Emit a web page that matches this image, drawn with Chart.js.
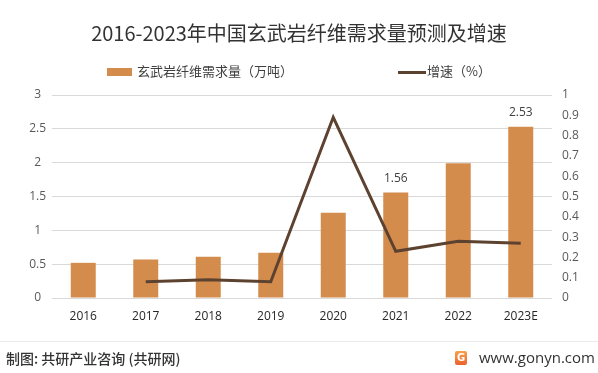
<!DOCTYPE html>
<html>
<head>
<meta charset="utf-8">
<script src="https://cdn.jsdelivr.net/npm/chart.js@4.4.1/dist/chart.umd.min.js"></script>
<style>
    body { margin: 0; background: #fff; }
    #wrap { position: relative; width: 598px; height: 373px; overflow: hidden; font-family: "Noto Sans CJK SC", "Noto Sans", sans-serif; }
    #myChart { position: absolute; left: 0; top: 0; }
    .abs { position: absolute; white-space: nowrap; }
    #title { left: 0; width: 598px; top: 20px; text-align: center; font-size: 20px; color: #333; line-height: 26px; }
    .legtext { font-size: 13px; color: #404040; line-height: 16px; top: 63px; }
    #footline { left: 0; top: 341px; width: 598px; height: 1px; background: #ebebeb; }
    #source { left: 6px; top: 349px; font-size: 14px; font-weight: 500; color: #333; line-height: 19px; }
    #logo { left: 455px; top: 351px; width: 12px; height: 14px; border-radius: 2px; background: linear-gradient(#f8a24c, #ea622d); color: #fff; font: bold 10px "DejaVu Sans", sans-serif; text-align: center; line-height: 14px; }
    #site { left: 479px; top: 347px; font-size: 15px; color: #333; line-height: 20px; font-family: "Open Sans", "Noto Sans", sans-serif; }
</style>
</head>
<body>
<div id="wrap">
    <canvas id="myChart" width="598" height="373"></canvas>
    <div id="title" class="abs">2016-2023年中国玄武岩纤维需求量预测及增速</div>
    <div class="abs" style="left:107px; top:68px; width:25px; height:8px; background:#d48c4d;"></div>
    <div class="abs legtext" style="left:137px;">玄武岩纤维需求量（万吨）</div>
    <div class="abs" style="left:398px; top:71px; width:28px; height:3px; background:#5e4230;"></div>
    <div class="abs legtext" style="left:427px;">增速（%）</div>
    <div id="footline" class="abs"></div>
    <div id="source" class="abs">制图: 共研产业咨询 (共研网)</div>
    <div id="logo" class="abs">G</div>
    <div id="site" class="abs">www.gonyn.com</div>
</div>
<script>
// Chart data
const years = ["2016", "2017", "2018", "2019", "2020", "2021", "2022", "2023E"];
const demand = [0.52, 0.57, 0.61, 0.67, 1.26, 1.56, 1.99, 2.53];
const growth = [null, 0.08, 0.09, 0.08, 0.89, 0.23, 0.28, 0.27];
const barLabels = [null, null, null, null, null, "1.56", null, "2.53"];
const leftTicks = [0, 0.5, 1, 1.5, 2, 2.5, 3];
const rightTicks = [0, 0.1, 0.2, 0.3, 0.4, 0.5, 0.6, 0.7, 0.8, 0.9, 1];

// Draw value labels above selected bars
const barLabelPlugin = {
    id: "barLabels",
    afterDatasetsDraw(chart) {
        const ctx = chart.ctx;
        const meta = chart.getDatasetMeta(1);
        ctx.save();
        ctx.font = '12px "Open Sans", "Noto Sans", sans-serif';
        ctx.fillStyle = "#404040";
        ctx.textAlign = "center";
        ctx.textBaseline = "middle";
        meta.data.forEach((bar, i) => {
            if (barLabels[i]) {
                ctx.fillText(barLabels[i], bar.x, bar.y - 14);
            }
        });
        ctx.restore();
    }
};

const tickFont = { size: 12, family: '"Open Sans", "Noto Sans", sans-serif' };

const ctx = document.getElementById("myChart").getContext("2d");
const myChart = new Chart(ctx, {
    type: "bar",
    data: {
        labels: years,
        datasets: [{
                type: "line",
                label: "增速（%）",
                data: growth,
                yAxisID: "y1",
                borderColor: "#5e4230",
                borderWidth: 3,
                pointRadius: 0,
                tension: 0,
                fill: false,
                order: 0,
            },
            {
                label: "玄武岩纤维需求量（万吨）",
                data: demand,
                yAxisID: "y",
                backgroundColor: "#d48c4d",
                barPercentage: 0.4,
                categoryPercentage: 1,
                order: 1,
            },
        ],
    },
    options: {
        responsive: false,
        animation: false,
        devicePixelRatio: 1,
        layout: {
            padding: { top: 95, bottom: 45, left: 0, right: 0 },
        },
        plugins: {
            legend: { display: false },
            title: { display: false },
            tooltip: { enabled: false },
        },
        scales: {
            x: {
                grid: { display: false, drawTicks: false },
                border: { display: false },
                ticks: { padding: 11, color: "#262626", font: tickFont },
                afterFit(scale) { scale.height = 30; },
            },
            y: {
                position: "left",
                min: 0,
                max: 3,
                afterBuildTicks(scale) { scale.ticks = leftTicks.map(v => ({ value: v })); },
                grid: { color: "#d9d9d9", drawTicks: false, tickLength: 0 },
                border: { display: false },
                ticks: {
                    padding: 6,
                    crossAlign: "center",
                    color: "#595959",
                    font: tickFont,
                    callback: (v) => String(v),
                },
                afterFit(scale) { scale.width = 52; },
            },
            y1: {
                position: "right",
                min: 0,
                max: 1,
                afterBuildTicks(scale) { scale.ticks = rightTicks.map(v => ({ value: v })); },
                grid: { display: false, drawTicks: false, tickLength: 0 },
                border: { display: false },
                ticks: {
                    padding: 10,
                    color: "#595959",
                    font: tickFont,
                    callback: (v) => String(v),
                },
                afterFit(scale) { scale.width = 46; },
            },
        },
    },
    plugins: [barLabelPlugin],
});
</script>
</body>
</html>
